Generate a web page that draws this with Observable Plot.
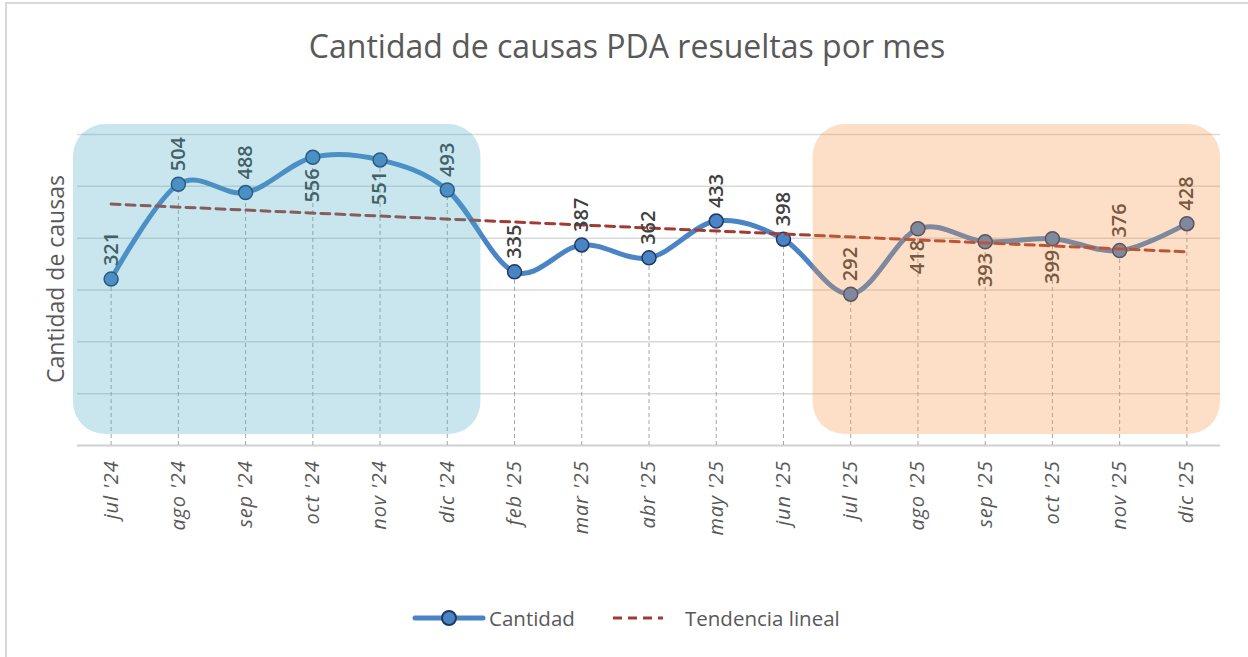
<!DOCTYPE html>
<html>
<head>
<meta charset="utf-8">
<script src="https://cdn.jsdelivr.net/npm/d3@7"></script>
<script src="https://cdn.jsdelivr.net/npm/@observablehq/plot@0.6"></script>
<style>
  html, body { margin: 0; padding: 0; background: #fff; }
  body { width: 1248px; height: 657px; position: relative; overflow: hidden; font-family: "Open Sans", sans-serif; }
  #frame { position: absolute; left: 5px; top: 2px; width: 1300px; height: 700px; border: 2px solid #d9d9d9; box-sizing: border-box; }
  #title { position: absolute; left: 0; top: 24px; width: 1254px; text-align: center; font-size: 32px; color: #595959; line-height: 44px; }
  #chart { position: absolute; left: 0; top: 100px; }
  #legend { position: absolute; top: 603px; left: 0; width: 1248px; height: 30px; font-size: 20.5px; color: #595959; }
  #legend .item { position: absolute; top: 0; display: flex; align-items: center; height: 30px; }
  #chart [aria-label="x-axis tick label"] text { font-style: italic; letter-spacing: 0.8px; }
</style>
</head>
<body>
<div id="frame"></div>
<div id="title">Cantidad de causas PDA resueltas por mes</div>
<div id="chart"></div>
<div id="legend"></div>
<script>
const months = ["jul '24","ago '24","sep '24","oct '24","nov '24","dic '24","feb '25","mar '25","abr '25","may '25","jun '25","jul '25","ago '25","sep '25","oct '25","nov '25","dic '25"];
const cantidad = [321,504,488,556,551,493,335,387,362,433,398,292,418,393,399,376,428];
const yTicks = [0,100,200,300,400,500,600];
const labelBelow = ["oct '24","nov '24","ago '25","sep '25","oct '25"];
const highlightFrom = ["jul '24","jul '25"];
const highlightTo = ["dic '24","dic '25"];
const highlightColor = ["#4bacc6","#f79646"];
const seriesNames = ["Cantidad","Tendencia lineal"];

const data = months.map((m, i) => ({i, month: m, value: cantidad[i], below: labelBelow.includes(m)}));
const highlights = highlightFrom.map((f, k) => ({x1: months.indexOf(f) - 0.5, x2: months.indexOf(highlightTo[k]) + 0.5, color: highlightColor[k]}));

const lineColor = "#4a84c4";
const trendColor = "#a03c32";
const labelStyle = {fontSize: 20, fontWeight: 600, fill: "#404040", rotate: -90};

const chart = Plot.plot({
  width: 1248, height: 450,
  marginTop: 34, marginBottom: 105, marginLeft: 77, marginRight: 28,
  style: {fontFamily: "Open Sans", background: "transparent", overflow: "visible"},
  x: {type: "linear", domain: [-0.5, 16.5], axis: null},
  y: {domain: [0, 600], axis: null},
  color: {type: "identity"},
  marks: [
    Plot.ruleY(yTicks.filter(d => d > 0), {stroke: "#d9d9d9", strokeWidth: 1.5}),
    Plot.ruleY([0], {stroke: "#d0d0d0", strokeWidth: 2}),
    Plot.ruleX(data, {x: "i", y1: 0, y2: "value", stroke: "#a6a6a6", strokeWidth: 1, strokeDasharray: "4,3"}),
    Plot.line(data, {x: "i", y: "value", curve: "cardinal", stroke: lineColor, strokeWidth: 5}),
    Plot.dot(data, {x: "i", y: "value", r: 7, fill: lineColor, stroke: "#1f3864", strokeWidth: 1.5}),
    Plot.linearRegressionY(data, {x: "i", y: "value", stroke: trendColor, strokeWidth: 3, strokeDasharray: "9,6", ci: 0}),
    Plot.text(data.filter(d => !d.below), {x: "i", y: "value", text: d => String(d.value), textAnchor: "start", dy: -13, ...labelStyle}),
    Plot.text(data.filter(d => d.below), {x: "i", y: "value", text: d => String(d.value), textAnchor: "end", dy: 11, ...labelStyle}),
    Plot.axisX({ticks: d3.range(months.length), tickFormat: i => months[i], tickRotate: -90, tickSize: 0, tickPadding: 15, fontSize: 20, color: "#595959", label: null}),
    Plot.rect(highlights, {x1: "x1", x2: "x2", y1: 0, y2: 600, insetLeft: -4, insetBottom: 11, insetTop: -10, rx: 32, fill: "color", fillOpacity: 0.3}),
    Plot.text(["Cantidad de causas"], {frameAnchor: "left", textAnchor: "middle", dx: -21, dy: -11, rotate: -90, fontSize: 23, fill: "#595959"})
  ]
});
document.getElementById("chart").append(chart);

const legend = document.getElementById("legend");
legend.innerHTML = `
  <div class="item" style="left:412px">
    <svg width="74" height="20"><line x1="3" y1="10" x2="71" y2="10" stroke="${lineColor}" stroke-width="5" stroke-linecap="round"/><circle cx="37" cy="10" r="7" fill="${lineColor}" stroke="#1f3864" stroke-width="2"/></svg>
    <span style="margin-left:3px">${seriesNames[0]}</span>
  </div>
  <div class="item" style="left:612px">
    <svg width="52" height="20"><line x1="1" y1="10" x2="51" y2="10" stroke="${trendColor}" stroke-width="3" stroke-dasharray="9,6"/></svg>
    <span style="margin-left:21px">${seriesNames[1]}</span>
  </div>`;
</script>
</body>
</html>
